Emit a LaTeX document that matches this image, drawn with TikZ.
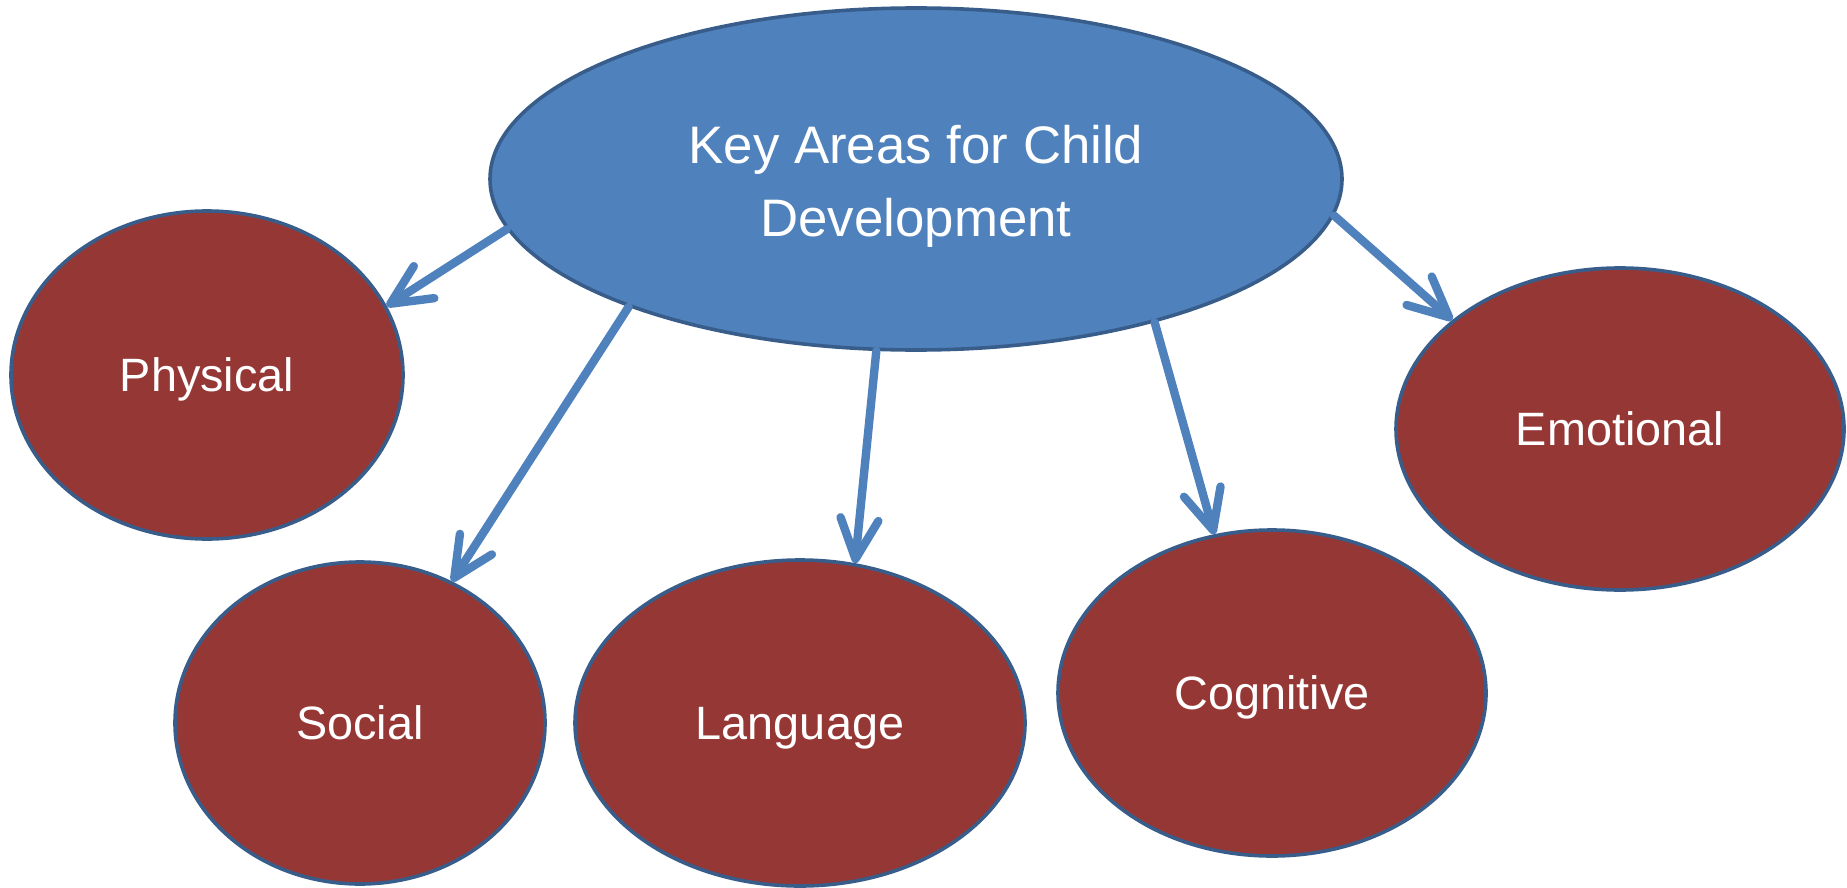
\documentclass[tikz,border=0pt]{standalone}
\usepackage{fontspec}
\setmainfont{Liberation Sans}
\usetikzlibrary{shapes.geometric,arrows.meta}
\definecolor{areablue}{HTML}{4F81BD}
\definecolor{areared}{HTML}{953735}
\definecolor{rimblue}{HTML}{385D8A}

\begin{document}
\begin{tikzpicture}[x=0.5pt,y=-0.5pt,
    area/.style={ellipse,draw=rimblue,line width=1.8pt,inner sep=0pt,text=white,align=center},
    sub/.style={area,fill=areared,text depth=0pt,font=\fontsize{23.4}{28}\selectfont},
    link/.style={draw=areablue,line width=4.2pt,line cap=round,-{Straight Barb[length=20pt,width=19pt,round]}}]
\useasboundingbox (0,0) rectangle (1847,888);
\node[area,fill=areablue,minimum width=426pt,minimum height=171pt,
      font=\fontsize{26.4}{36.5}\selectfont] (main) at (916,179)
      {\rule{0pt}{26pt}Key Areas for Child\\Development};
\node[sub,minimum width=196pt,minimum height=164pt] (phys) at (207,375) {Physical};
\node[sub,minimum width=185pt,minimum height=161pt] (soc) at (360,723) {Social};
\node[sub,minimum width=225pt,minimum height=163pt] (lang) at (800,723) {Language};
\node[sub,minimum width=214pt,minimum height=163pt] (cogn) at (1272,693) {Cognitive};
\node[sub,minimum width=224pt,minimum height=161pt] (emot) at (1620,429) {Emotional};
\foreach \a/\t/\b in {187.7/phys/21.1, 204.3/soc/57.2, 257.7/lang/71.7, -31.8/cogn/110, -5.2/emot/147.8}
    \draw[link] (main.\a) -- (\t.\b);
\end{tikzpicture}
\end{document}
